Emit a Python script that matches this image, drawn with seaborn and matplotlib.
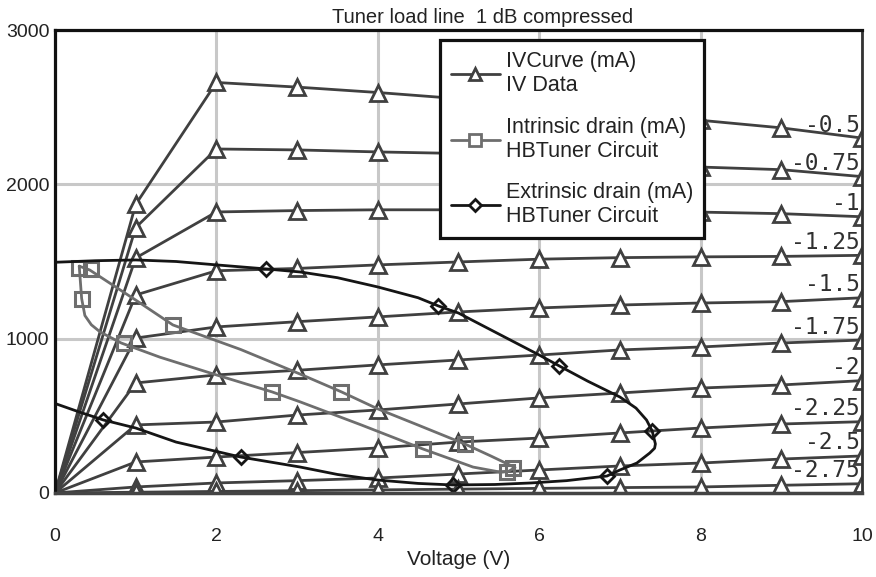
import numpy as np
import pandas as pd
import seaborn as sns
import matplotlib.pyplot as plt
from matplotlib.lines import Line2D

# drain voltage steps for the IV data
volts = [0, 1, 2, 3, 4, 5, 6, 7, 8, 9, 10]
gate_labels = ["-0.5", "-0.75", "-1", "-1.25", "-1.5", "-1.75", "-2", "-2.25", "-2.5", "-2.75"]

# IV curves (mA), one per gate voltage
iv_m050 = [0, 1870, 2660, 2630, 2595, 2555, 2515, 2470, 2415, 2366, 2300]
iv_m075 = [0, 1720, 2229, 2223, 2210, 2200, 2180, 2150, 2112, 2095, 2050]
iv_m100 = [0, 1523, 1821, 1830, 1835, 1835, 1832, 1828, 1820, 1810, 1790]
iv_m125 = [0, 1283, 1440, 1455, 1478, 1497, 1515, 1525, 1530, 1533, 1540]
iv_m150 = [0, 1004, 1076, 1110, 1141, 1173, 1199, 1218, 1231, 1240, 1265]
iv_m175 = [0, 713, 765, 795, 830, 862, 894, 927, 946, 972, 991]
iv_m200 = [0, 441, 460, 505, 538, 577, 616, 648, 680, 700, 728]
iv_m225 = [0, 201, 233, 262, 292, 330, 356, 389, 421, 447, 462]
iv_m250 = [0, 39, 65, 80, 97, 123, 149, 175, 194, 220, 240]
iv_m275 = [0, 5, 10, 15, 20, 25, 30, 35, 39, 50, 60]

# intrinsic drain load line (closed loop)
intr_v = [0.30, 0.33, 0.37, 0.45, 0.56, 0.82, 1.30, 2.00, 2.69, 3.04, 3.80, 4.56,
          5.18, 5.52, 5.62, 5.70, 5.40, 5.08, 4.50, 4.00, 3.55, 3.04, 2.30, 1.46,
          1.00, 0.43, 0.30]
intr_i = [1470, 1260, 1150, 1090, 1043, 972, 880, 765, 655, 590, 440, 285,
          168, 135, 140, 165, 240, 317, 440, 545, 655, 770, 930, 1089,
          1250, 1445, 1470]
intr_mark_v = [0.30, 0.45, 0.33, 0.85, 1.46, 2.69, 3.55, 4.56, 5.08, 5.60, 5.68]
intr_mark_i = [1460, 1450, 1260, 970, 1089, 655, 655, 285, 317, 135, 162]

# extrinsic drain load line (closed loop)
ext_v = [0, 0.5, 1.0, 1.5, 2.0, 2.61, 3.04, 3.5, 4.0, 4.5, 4.75, 5.0, 5.5, 6.0, 6.25,
         6.6, 7.0, 7.2, 7.33, 7.40, 7.44, 7.43, 7.37, 7.21, 7.0, 6.84, 6.34, 5.9,
         5.45, 4.93, 4.5, 4.0, 3.5, 3.04, 2.30, 1.5, 1.0, 0.60, 0.3, 0]
ext_i = [1495, 1505, 1510, 1500, 1478, 1452, 1432, 1395, 1335, 1265, 1212, 1166,
         1030, 894, 823, 725, 622, 550, 473, 402, 318, 290, 259, 194, 149, 110, 80,
         65, 55, 52, 62, 84, 120, 168, 233, 330, 421, 473, 525, 580]
ext_mark_v = [0.60, 2.30, 2.61, 4.75, 4.93, 6.25, 6.84, 7.40]
ext_mark_i = [473, 233, 1452, 1212, 52, 823, 110, 402]

iv_curves = [iv_m050, iv_m075, iv_m100, iv_m125, iv_m150,
             iv_m175, iv_m200, iv_m225, iv_m250, iv_m275]
iv_df = pd.concat(
    [pd.DataFrame({"V": volts, "I": c, "gate": g}) for c, g in zip(iv_curves, gate_labels)],
    ignore_index=True,
)
intr_df = pd.DataFrame({"V": intr_v, "I": intr_i})
ext_df = pd.DataFrame({"V": ext_v, "I": ext_i})

sns.set_style("white")
plt.rcParams["font.family"] = ["Liberation Sans", "DejaVu Sans"]

iv_col = "#404040"
intr_col = "#6e6e6e"
ext_col = "#151515"
txt_col = "#222222"

fig = plt.figure(figsize=(8.76, 5.77), dpi=100)
ax = fig.add_axes([0.0628, 0.1456, 0.9212, 0.8024])

ax.grid(True, color="#c8c8c8", lw=2.2)
ax.set_axisbelow(True)

sns.lineplot(data=iv_df, x="V", y="I", units="gate", estimator=None, sort=False,
             color=iv_col, lw=2, marker="^", ms=11, mfc="white", mec=iv_col,
             mew=2, ax=ax, legend=False)

sns.lineplot(data=intr_df, x="V", y="I", estimator=None, sort=False,
             color=intr_col, lw=2, ax=ax, legend=False)
ax.plot(intr_mark_v, intr_mark_i, ls="none", marker="s", ms=10.5, mfc="none",
        mec=intr_col, mew=2.2)

sns.lineplot(data=ext_df, x="V", y="I", estimator=None, sort=False,
             color=ext_col, lw=2, ax=ax, legend=False)
ax.plot(ext_mark_v, ext_mark_i, ls="none", marker="D", ms=7, mfc="none",
        mec=ext_col, mew=2)

for c, g in zip(iv_curves, gate_labels):
    ax.annotate(g, xy=(10, c[-1]), xytext=(-2, 13), textcoords="offset pixels",
                ha="right", va="center", fontsize=16.5, color="#303030",
                family="DejaVu Sans Mono")

ax.set_xlim(0, 10)
ax.set_ylim(0, 3000)
ax.set_xticks([0, 2, 4, 6, 8, 10])
ax.set_yticks([0, 1000, 2000, 3000])
ax.tick_params(axis="both", length=0, labelsize=14, colors=txt_col)
ax.tick_params(axis="x", pad=25)
ax.tick_params(axis="y", pad=4)
ax.set_xlabel("Voltage (V)", fontsize=15, color=txt_col, labelpad=4)
ax.set_ylabel("")
ax.set_title("Tuner load line  1 dB compressed", fontsize=14.5, color=txt_col,
             x=0.53, pad=5)

for side in ["left", "top"]:
    ax.spines[side].set_color("#111111")
    ax.spines[side].set_linewidth(2.3)
ax.spines["right"].set_color("#333333")
ax.spines["right"].set_linewidth(2)
ax.spines["bottom"].set_color("#444444")
ax.spines["bottom"].set_linewidth(2.5)

handles = [
    Line2D([], [], color=iv_col, lw=2, marker="^", ms=9, mfc="white", mec=iv_col, mew=2),
    Line2D([], [], color=intr_col, lw=2, marker="s", ms=9, mfc="white", mec=intr_col, mew=2),
    Line2D([], [], color=ext_col, lw=2, marker="D", ms=6, mfc="white", mec=ext_col, mew=2),
]
labels = ["IVCurve (mA)\nIV Data",
          "Intrinsic drain (mA)\nHBTuner Circuit",
          "Extrinsic drain (mA)\nHBTuner Circuit"]
leg = ax.legend(handles, labels, loc="upper left", bbox_to_anchor=(0.477, 0.978),
                fontsize=15.5, frameon=True, fancybox=False, framealpha=1,
                edgecolor="#111111", borderpad=0.5, handlelength=2.3,
                handletextpad=0.25, labelspacing=0.95, borderaxespad=0)
leg.get_frame().set_linewidth(2.3)
for t in leg.get_texts():
    t.set_color(txt_col)
    t.set_linespacing(1.2)

fig.savefig("out.png", dpi=100)
